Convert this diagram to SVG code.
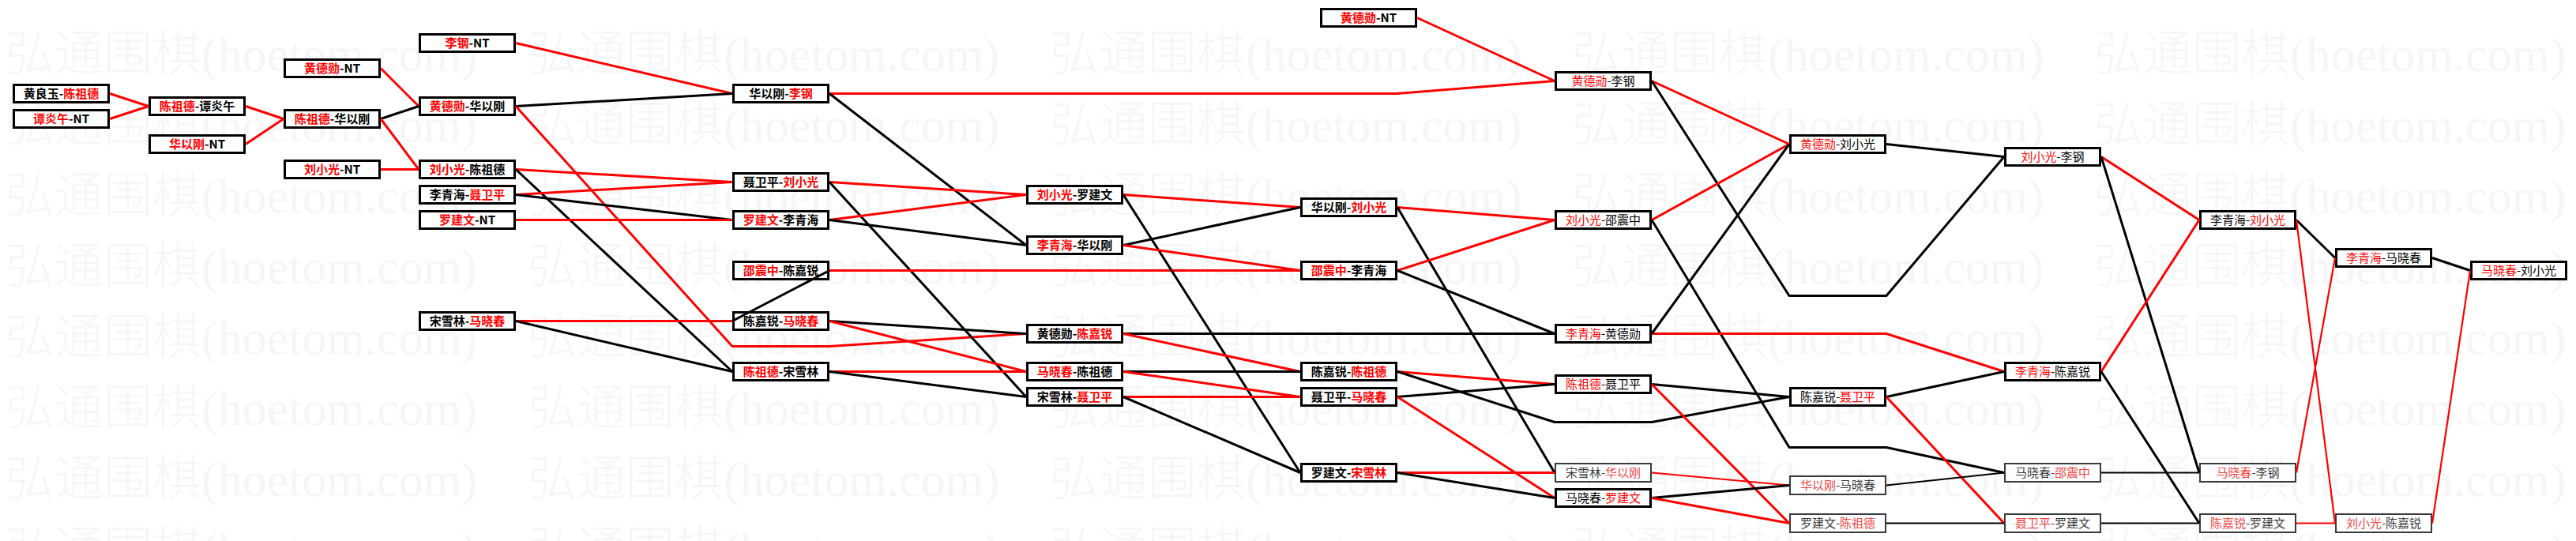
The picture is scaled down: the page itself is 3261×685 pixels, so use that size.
<svg xmlns="http://www.w3.org/2000/svg" width="3261" height="685" viewBox="0 0 3261 685">
<style>
.wm{font-family:"Liberation Serif","Noto Sans CJK SC",serif;font-size:62px;font-weight:300;fill:#f6f6f6}
.n rect{fill:#fff;stroke:#000;stroke-width:3}
.n.t rect{stroke:#3a3a3a;stroke-width:2}
.n text{font-family:"Noto Sans CJK SC",sans-serif;font-size:15px;text-anchor:middle}
.n.b text{font-weight:bold}
.r{fill:#f00}.k{fill:#000}
.t .r{fill:#f04545}.t .k{fill:#3a3a3a}
#connectors polyline{fill:none;stroke-width:3;stroke-linejoin:round}
#connectors .cr{stroke:#f00}
#connectors .ck{stroke:#000}
#connectors .w{stroke-width:2.2}
</style>
<defs>
<pattern id="wmp" patternUnits="userSpaceOnUse" x="7" y="30" width="661" height="89.7">
<text class="wm" x="0" y="60">弘通围棋(hoetom.com)</text>
</pattern>
</defs>
<rect x="0" y="0" width="3261" height="685" fill="#fff"/>
<rect x="0" y="30" width="3261" height="655" fill="url(#wmp)"/>

<g id="nodes">
<g id="A1" class="n b" transform="translate(16,106)"><rect x="1.5" y="1.5" width="120" height="22"/><text x="61.5" y="18"><tspan class="k">黄良玉-</tspan><tspan class="r">陈祖德</tspan></text></g>
<g id="A2" class="n b" transform="translate(16,138)"><rect x="1.5" y="1.5" width="120" height="22"/><text x="61.5" y="18"><tspan class="r">谭炎午</tspan><tspan class="k">-NT</tspan></text></g>
<g id="B1" class="n b" transform="translate(188,122)"><rect x="1.5" y="1.5" width="120" height="22"/><text x="61.5" y="18"><tspan class="r">陈祖德</tspan><tspan class="k">-谭炎午</tspan></text></g>
<g id="B2" class="n b" transform="translate(188,170)"><rect x="1.5" y="1.5" width="120" height="22"/><text x="61.5" y="18"><tspan class="r">华以刚</tspan><tspan class="k">-NT</tspan></text></g>
<g id="C1" class="n b" transform="translate(359,74)"><rect x="1.5" y="1.5" width="120" height="22"/><text x="61.5" y="18"><tspan class="r">黄德勋</tspan><tspan class="k">-NT</tspan></text></g>
<g id="C2" class="n b" transform="translate(359,138)"><rect x="1.5" y="1.5" width="120" height="22"/><text x="61.5" y="18"><tspan class="r">陈祖德</tspan><tspan class="k">-华以刚</tspan></text></g>
<g id="C3" class="n b" transform="translate(359,202)"><rect x="1.5" y="1.5" width="120" height="22"/><text x="61.5" y="18"><tspan class="r">刘小光</tspan><tspan class="k">-NT</tspan></text></g>
<g id="D1" class="n b" transform="translate(530,42)"><rect x="1.5" y="1.5" width="120" height="22"/><text x="61.5" y="18"><tspan class="r">李钢</tspan><tspan class="k">-NT</tspan></text></g>
<g id="D2" class="n b" transform="translate(530,122)"><rect x="1.5" y="1.5" width="120" height="22"/><text x="61.5" y="18"><tspan class="r">黄德勋</tspan><tspan class="k">-华以刚</tspan></text></g>
<g id="D3" class="n b" transform="translate(530,202)"><rect x="1.5" y="1.5" width="120" height="22"/><text x="61.5" y="18"><tspan class="r">刘小光</tspan><tspan class="k">-陈祖德</tspan></text></g>
<g id="D4" class="n b" transform="translate(530,234)"><rect x="1.5" y="1.5" width="120" height="22"/><text x="61.5" y="18"><tspan class="k">李青海-</tspan><tspan class="r">聂卫平</tspan></text></g>
<g id="D5" class="n b" transform="translate(530,266)"><rect x="1.5" y="1.5" width="120" height="22"/><text x="61.5" y="18"><tspan class="r">罗建文</tspan><tspan class="k">-NT</tspan></text></g>
<g id="D6" class="n b" transform="translate(530,394)"><rect x="1.5" y="1.5" width="120" height="22"/><text x="61.5" y="18"><tspan class="k">宋雪林-</tspan><tspan class="r">马晓春</tspan></text></g>
<g id="E1" class="n b" transform="translate(927,106)"><rect x="1.5" y="1.5" width="120" height="22"/><text x="61.5" y="18"><tspan class="k">华以刚-</tspan><tspan class="r">李钢</tspan></text></g>
<g id="E2" class="n b" transform="translate(927,218)"><rect x="1.5" y="1.5" width="120" height="22"/><text x="61.5" y="18"><tspan class="k">聂卫平-</tspan><tspan class="r">刘小光</tspan></text></g>
<g id="E3" class="n b" transform="translate(927,266)"><rect x="1.5" y="1.5" width="120" height="22"/><text x="61.5" y="18"><tspan class="r">罗建文</tspan><tspan class="k">-李青海</tspan></text></g>
<g id="E4" class="n b" transform="translate(927,330)"><rect x="1.5" y="1.5" width="120" height="22"/><text x="61.5" y="18"><tspan class="r">邵震中</tspan><tspan class="k">-陈嘉锐</tspan></text></g>
<g id="E5" class="n b" transform="translate(927,394)"><rect x="1.5" y="1.5" width="120" height="22"/><text x="61.5" y="18"><tspan class="k">陈嘉锐-</tspan><tspan class="r">马晓春</tspan></text></g>
<g id="E6" class="n b" transform="translate(927,458)"><rect x="1.5" y="1.5" width="120" height="22"/><text x="61.5" y="18"><tspan class="r">陈祖德</tspan><tspan class="k">-宋雪林</tspan></text></g>
<g id="F1" class="n b" transform="translate(1299,234)"><rect x="1.5" y="1.5" width="120" height="22"/><text x="61.5" y="18"><tspan class="r">刘小光</tspan><tspan class="k">-罗建文</tspan></text></g>
<g id="F2" class="n b" transform="translate(1299,298)"><rect x="1.5" y="1.5" width="120" height="22"/><text x="61.5" y="18"><tspan class="r">李青海</tspan><tspan class="k">-华以刚</tspan></text></g>
<g id="F3" class="n b" transform="translate(1299,410)"><rect x="1.5" y="1.5" width="120" height="22"/><text x="61.5" y="18"><tspan class="k">黄德勋-</tspan><tspan class="r">陈嘉锐</tspan></text></g>
<g id="F4" class="n b" transform="translate(1299,458)"><rect x="1.5" y="1.5" width="120" height="22"/><text x="61.5" y="18"><tspan class="r">马晓春</tspan><tspan class="k">-陈祖德</tspan></text></g>
<g id="F5" class="n b" transform="translate(1299,490)"><rect x="1.5" y="1.5" width="120" height="22"/><text x="61.5" y="18"><tspan class="k">宋雪林-</tspan><tspan class="r">聂卫平</tspan></text></g>
<g id="G0" class="n b" transform="translate(1671,10)"><rect x="1.5" y="1.5" width="120" height="22"/><text x="61.5" y="18"><tspan class="r">黄德勋</tspan><tspan class="k">-NT</tspan></text></g>
<g id="G1" class="n b" transform="translate(1646,250)"><rect x="1.5" y="1.5" width="120" height="22"/><text x="61.5" y="18"><tspan class="k">华以刚-</tspan><tspan class="r">刘小光</tspan></text></g>
<g id="G2" class="n b" transform="translate(1646,330)"><rect x="1.5" y="1.5" width="120" height="22"/><text x="61.5" y="18"><tspan class="r">邵震中</tspan><tspan class="k">-李青海</tspan></text></g>
<g id="G3" class="n b" transform="translate(1646,458)"><rect x="1.5" y="1.5" width="120" height="22"/><text x="61.5" y="18"><tspan class="k">陈嘉锐-</tspan><tspan class="r">陈祖德</tspan></text></g>
<g id="G4" class="n b" transform="translate(1646,490)"><rect x="1.5" y="1.5" width="120" height="22"/><text x="61.5" y="18"><tspan class="k">聂卫平-</tspan><tspan class="r">马晓春</tspan></text></g>
<g id="G5" class="n b" transform="translate(1646,586)"><rect x="1.5" y="1.5" width="120" height="22"/><text x="61.5" y="18"><tspan class="k">罗建文-</tspan><tspan class="r">宋雪林</tspan></text></g>
<g id="H1" class="n" transform="translate(1968,90)"><rect x="1.5" y="1.5" width="120" height="22"/><text x="61.5" y="18"><tspan class="r">黄德勋</tspan><tspan class="k">-李钢</tspan></text></g>
<g id="H2" class="n" transform="translate(1968,266)"><rect x="1.5" y="1.5" width="120" height="22"/><text x="61.5" y="18"><tspan class="r">刘小光</tspan><tspan class="k">-邵震中</tspan></text></g>
<g id="H3" class="n" transform="translate(1968,410)"><rect x="1.5" y="1.5" width="120" height="22"/><text x="61.5" y="18"><tspan class="r">李青海</tspan><tspan class="k">-黄德勋</tspan></text></g>
<g id="H4" class="n" transform="translate(1968,474)"><rect x="1.5" y="1.5" width="120" height="22"/><text x="61.5" y="18"><tspan class="r">陈祖德</tspan><tspan class="k">-聂卫平</tspan></text></g>
<g id="H5" class="n t" transform="translate(1968,586)"><rect x="1" y="1" width="121" height="23"/><text x="61.5" y="18"><tspan class="k">宋雪林-</tspan><tspan class="r">华以刚</tspan></text></g>
<g id="H6" class="n" transform="translate(1968,618)"><rect x="1.5" y="1.5" width="120" height="22"/><text x="61.5" y="18"><tspan class="k">马晓春-</tspan><tspan class="r">罗建文</tspan></text></g>
<g id="I1" class="n" transform="translate(2265,170)"><rect x="1.5" y="1.5" width="120" height="22"/><text x="61.5" y="18"><tspan class="r">黄德勋</tspan><tspan class="k">-刘小光</tspan></text></g>
<g id="I2" class="n" transform="translate(2265,490)"><rect x="1.5" y="1.5" width="120" height="22"/><text x="61.5" y="18"><tspan class="k">陈嘉锐-</tspan><tspan class="r">聂卫平</tspan></text></g>
<g id="I3" class="n t" transform="translate(2265,602)"><rect x="1" y="1" width="121" height="23"/><text x="61.5" y="18"><tspan class="r">华以刚</tspan><tspan class="k">-马晓春</tspan></text></g>
<g id="I4" class="n t" transform="translate(2265,650)"><rect x="1" y="1" width="121" height="23"/><text x="61.5" y="18"><tspan class="k">罗建文-</tspan><tspan class="r">陈祖德</tspan></text></g>
<g id="J1" class="n" transform="translate(2537,186)"><rect x="1.5" y="1.5" width="120" height="22"/><text x="61.5" y="18"><tspan class="r">刘小光</tspan><tspan class="k">-李钢</tspan></text></g>
<g id="J2" class="n" transform="translate(2537,458)"><rect x="1.5" y="1.5" width="120" height="22"/><text x="61.5" y="18"><tspan class="r">李青海</tspan><tspan class="k">-陈嘉锐</tspan></text></g>
<g id="J3" class="n t" transform="translate(2537,586)"><rect x="1" y="1" width="121" height="23"/><text x="61.5" y="18"><tspan class="k">马晓春-</tspan><tspan class="r">邵震中</tspan></text></g>
<g id="J4" class="n t" transform="translate(2537,650)"><rect x="1" y="1" width="121" height="23"/><text x="61.5" y="18"><tspan class="r">聂卫平</tspan><tspan class="k">-罗建文</tspan></text></g>
<g id="K1" class="n" transform="translate(2784,266)"><rect x="1.5" y="1.5" width="120" height="22"/><text x="61.5" y="18"><tspan class="k">李青海-</tspan><tspan class="r">刘小光</tspan></text></g>
<g id="K2" class="n t" transform="translate(2784,586)"><rect x="1" y="1" width="121" height="23"/><text x="61.5" y="18"><tspan class="r">马晓春</tspan><tspan class="k">-李钢</tspan></text></g>
<g id="K3" class="n t" transform="translate(2784,650)"><rect x="1" y="1" width="121" height="23"/><text x="61.5" y="18"><tspan class="r">陈嘉锐</tspan><tspan class="k">-罗建文</tspan></text></g>
<g id="L1" class="n" transform="translate(2956,314)"><rect x="1.5" y="1.5" width="120" height="22"/><text x="61.5" y="18"><tspan class="r">李青海</tspan><tspan class="k">-马晓春</tspan></text></g>
<g id="L2" class="n t" transform="translate(2956,650)"><rect x="1" y="1" width="121" height="23"/><text x="61.5" y="18"><tspan class="r">刘小光</tspan><tspan class="k">-陈嘉锐</tspan></text></g>
<g id="M1" class="n" transform="translate(3127,330)"><rect x="1.5" y="1.5" width="120" height="22"/><text x="61.5" y="18"><tspan class="r">马晓春</tspan><tspan class="k">-刘小光</tspan></text></g>
</g>

<g id="connectors">
<polyline class="cr" points="139,118.5 188,134.5"/>
<polyline class="cr" points="139,150.5 188,134.5"/>
<polyline class="cr" points="311,134.5 359,150.5"/>
<polyline class="cr" points="311,182.5 359,150.5"/>
<polyline class="cr" points="482,86.5 530,134.5"/>
<polyline class="ck" points="482,150.5 530,134.5"/>
<polyline class="cr" points="482,150.5 530,214.5"/>
<polyline class="cr" points="482,214.5 530,214.5"/>
<polyline class="cr" points="653,54.5 927,118.5"/>
<polyline class="ck" points="653,134.5 927,118.5"/>
<polyline class="cr" points="653,134.5 927,438.5 1050,438.5 1299,422.5"/>
<polyline class="cr" points="653,214.5 927,230.5"/>
<polyline class="ck" points="653,214.5 927,470.5"/>
<polyline class="cr" points="653,246.5 927,230.5"/>
<polyline class="ck" points="653,246.5 927,278.5"/>
<polyline class="cr" points="653,278.5 927,278.5"/>
<polyline class="cr" points="653,406.5 927,406.5"/>
<polyline class="ck" points="653,406.5 927,470.5"/>
<polyline class="cr" points="1050,118.5 1769,118.5 1968,102.5"/>
<polyline class="ck" points="1050,118.5 1299,310.5"/>
<polyline class="cr" points="1050,230.5 1299,246.5"/>
<polyline class="ck" points="1050,230.5 1299,502.5"/>
<polyline class="cr" points="1050,278.5 1299,246.5"/>
<polyline class="ck" points="1050,278.5 1299,310.5"/>
<polyline class="cr" points="1050,342.5 1646,342.5"/>
<polyline class="ck" points="1050,342.5 927,406.5"/>
<polyline class="ck" points="1050,406.5 1299,422.5"/>
<polyline class="cr" points="1050,406.5 1299,470.5"/>
<polyline class="cr" points="1050,470.5 1299,470.5"/>
<polyline class="ck" points="1050,470.5 1299,502.5"/>
<polyline class="cr" points="1422,246.5 1646,262.5"/>
<polyline class="ck" points="1422,246.5 1646,598.5"/>
<polyline class="ck" points="1422,310.5 1646,262.5"/>
<polyline class="cr" points="1422,310.5 1646,342.5"/>
<polyline class="ck" points="1422,422.5 1968,422.5"/>
<polyline class="cr" points="1422,422.5 1646,470.5"/>
<polyline class="ck" points="1422,470.5 1646,470.5"/>
<polyline class="cr" points="1422,470.5 1646,502.5"/>
<polyline class="cr" points="1422,502.5 1646,502.5"/>
<polyline class="ck" points="1422,502.5 1646,598.5"/>
<polyline class="cr" points="1794,22.5 1968,102.5"/>
<polyline class="cr" points="1769,262.5 1968,278.5"/>
<polyline class="ck" points="1769,262.5 1968,598.5"/>
<polyline class="cr" points="1769,342.5 1968,278.5"/>
<polyline class="ck" points="1769,342.5 1968,422.5"/>
<polyline class="cr" points="1769,470.5 1968,486.5"/>
<polyline class="ck" points="1769,470.5 1968,534.5 2091,534.5 2265,502.5"/>
<polyline class="ck" points="1769,502.5 1968,486.5"/>
<polyline class="cr" points="1769,502.5 1968,630.5"/>
<polyline class="cr" points="1769,598.5 1968,598.5"/>
<polyline class="ck" points="1769,598.5 1968,630.5"/>
<polyline class="cr" points="2091,102.5 2265,182.5"/>
<polyline class="ck" points="2091,102.5 2265,374.5 2388,374.5 2537,198.5"/>
<polyline class="cr" points="2091,278.5 2265,182.5"/>
<polyline class="ck" points="2091,278.5 2265,566.5 2388,566.5 2537,598.5"/>
<polyline class="cr" points="2091,422.5 2388,422.5 2537,470.5"/>
<polyline class="ck" points="2091,422.5 2265,182.5"/>
<polyline class="ck" points="2091,486.5 2265,502.5"/>
<polyline class="cr" points="2091,486.5 2265,662.5"/>
<polyline class="cr w" points="2091,598.5 2265,614.5"/>
<polyline class="ck" points="2091,630.5 2265,614.5"/>
<polyline class="cr" points="2091,630.5 2265,662.5"/>
<polyline class="ck" points="2388,182.5 2537,198.5"/>
<polyline class="ck" points="2388,502.5 2537,470.5"/>
<polyline class="cr" points="2388,502.5 2537,662.5"/>
<polyline class="ck w" points="2388,614.5 2537,598.5"/>
<polyline class="ck w" points="2388,662.5 2537,662.5"/>
<polyline class="cr" points="2660,198.5 2784,278.5"/>
<polyline class="ck" points="2660,198.5 2784,598.5"/>
<polyline class="cr" points="2660,470.5 2784,278.5"/>
<polyline class="ck" points="2660,470.5 2784,662.5"/>
<polyline class="ck w" points="2660,598.5 2784,598.5"/>
<polyline class="ck w" points="2660,662.5 2784,662.5"/>
<polyline class="ck" points="2907,278.5 2956,326.5"/>
<polyline class="cr w" points="2907,278.5 2956,662.5"/>
<polyline class="cr w" points="2907,598.5 2956,326.5"/>
<polyline class="cr w" points="2907,662.5 2956,662.5"/>
<polyline class="ck" points="3079,326.5 3127,342.5"/>
<polyline class="cr w" points="3079,662.5 3127,342.5"/>
</g>
</svg>
